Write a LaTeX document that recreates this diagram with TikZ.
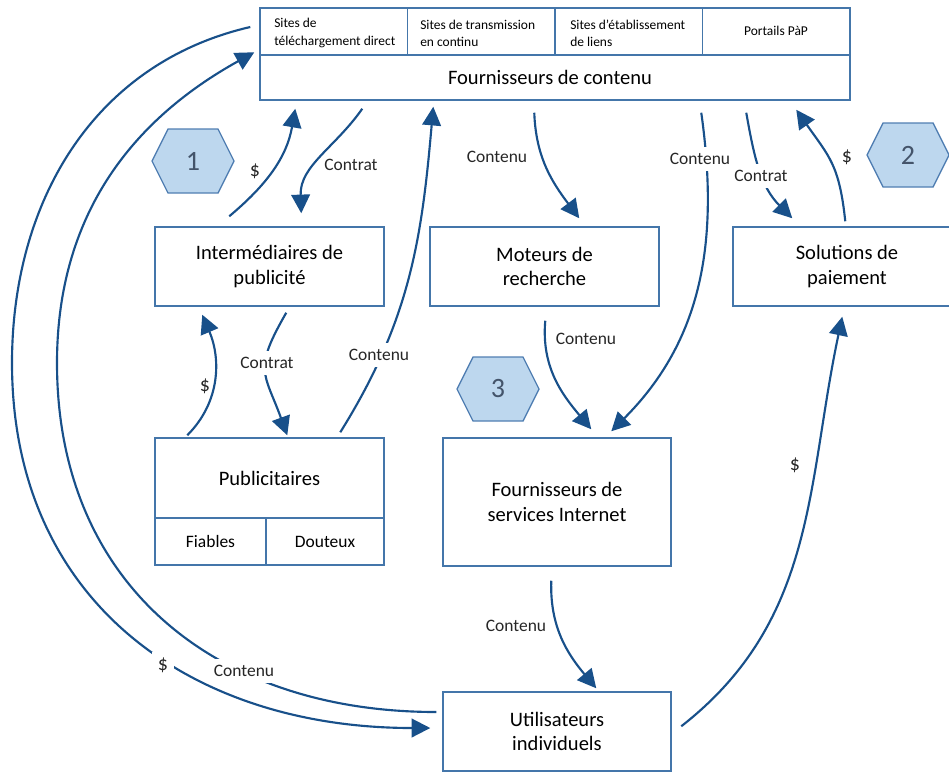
\documentclass[tikz,border=0pt]{standalone}
\usepackage{fontspec}
\setmainfont{Carlito}
\usetikzlibrary{arrows.meta,calc}
\definecolor{arrowblue}{RGB}{24,80,138}
\definecolor{boxblue}{RGB}{68,118,170}
\definecolor{hexfill}{RGB}{189,215,238}
\definecolor{hexline}{RGB}{80,126,178}
\definecolor{hexnum}{RGB}{68,84,106}
\definecolor{labeltext}{RGB}{38,38,38}
\begin{document}
\begin{tikzpicture}[x=0.75pt,y=0.75pt,
  box/.style={draw=boxblue, line width=1.1pt, fill=white, inner sep=0pt, align=center,
    font=\fontsize{15.4}{18.5}\selectfont},
  boxtext/.style={inner sep=0pt, align=center, font=\fontsize{15.4}{18.5}\selectfont},
  cellbox/.style={draw=boxblue, line width=1.1pt, fill=white, inner sep=0pt,
    minimum width=110.625pt, minimum height=35.25pt},
  celltext/.style={font=\fontsize{10.1}{12.9}\selectfont, align=left, inner sep=0pt},
  conn/.style={draw=arrowblue, line width=1.6pt, -{Triangle[length=14pt,width=14pt]}},
  lbl/.style={font=\fontsize{13.1}{15}\selectfont, text=labeltext, inner sep=1pt},
  gaplbl/.style={lbl, fill=white, inner sep=4.5pt},
  dollar/.style={font=\fontsize{15}{17}\selectfont},
  hexnumber/.style={font=\fontsize{21}{24}\selectfont, text=hexnum},
  hexa/.pic={\draw[draw=hexline, fill=hexfill, line width=1pt]
     (-41,0) -- (-25,32) -- (25,32) -- (41,0) -- (25,-32) -- (-25,-32) -- cycle;}
]
\useasboundingbox (0,0) rectangle (949,-772);
\clip (0,0) rectangle (949,-772);

% ---- top box: content providers ----
\node[cellbox] (c1) at (333.75,-31.5) {};
\node[cellbox] (c2) at (481.25,-31.5) {};
\node[cellbox] (c3) at (628.75,-31.5) {};
\node[cellbox] (c4) at (776.25,-31.5) {};
\node[box, minimum width=442.5pt, minimum height=33.75pt] (fc) at (555,-77.5) {};
\node[boxtext] (fct) at (550,-77) {Fournisseurs de contenu};
\node[celltext, anchor=west] (t1) at (274,-33) {Sites de\\téléchargement direct};
\node[celltext, anchor=west] (t2) at (420,-33) {Sites de transmission\\en continu};
\node[celltext, anchor=west] (t3) at (570,-33) {Sites d’établissement\\de liens};
\node[celltext] (t4) at (776,-31) {Portails PàP};

% ---- middle row ----
\node[box, minimum width=171.75pt, minimum height=59.25pt] (inter) at (269.5,-266.5) {Intermédiaires de\\publicité};
\node[box, minimum width=171.75pt, minimum height=59.25pt] (mot) at (544.5,-266.5) {Moteurs de\\recherche};
\node[box, minimum width=225pt, minimum height=59.25pt] (sol) at (883,-266.5) {};
\node[boxtext] (solt) at (847,-266.5) {Solutions de\\paiement};

% ---- advertisers ----
\node[box, minimum width=171.75pt, minimum height=60pt] (pub) at (269.5,-478) {Publicitaires};
\node[box, minimum width=83.25pt, minimum height=35.25pt, font=\fontsize{13.1}{15}\selectfont] (fia) at (210.5,-541.5) {Fiables};
\node[box, minimum width=88.5pt, minimum height=35.25pt, font=\fontsize{13.1}{15}\selectfont] (dou) at (325,-541.5) {Douteux};

% ---- ISP and users ----
\node[box, minimum width=171pt, minimum height=96pt] (fsi) at (557,-502) {Fournisseurs de\\services Internet};
\node[box, minimum width=171pt, minimum height=59.25pt] (util) at (557,-731.5) {Utilisateurs\\individuels};

% ---- hexagons ----
\pic at (193,-161) {hexa};
\node[hexnumber] (h1) at (193,-161) {1};
\pic at (908,-155) {hexa};
\node[hexnumber] (h2) at (908,-155) {2};
\pic at (498,-389) {hexa};
\node[hexnumber] (h3) at (498,-389) {3};

% ---- connectors ----
\draw[conn] ($(inter.north west)+(75,10)$) to[out=40,in=-100] ($(fc.south west)+(36,-8)$);
\draw[conn] ($(fc.south west)+(103,-8)$) to[out=-125,in=92] ($(inter.north west)+(147,13)$);
\draw[conn] ($(pub.north west)+(33,2)$) to[out=45,in=-67] ($(inter.south west)+(48,-8)$);
\draw[conn] ($(inter.south west)+(132,-6)$) to[out=-120,in=110,looseness=1.4] ($(pub.north west)+(133,2)$);
\draw[conn] ($(pub.north west)+(186,5)$) to[out=58,in=-95] ($(fc.south west)+(174,-6)$);
\draw[conn] ($(fc.south west)+(275,-12)$) to[out=-88,in=127] ($(mot.north west)+(150,8)$);
\draw[conn] ($(fc.south west)+(442,-12)$) to[out=-82,in=45] ($(fsi.north west)+(169,6)$);
\draw[conn] ($(mot.south west)+(116,-14)$) to[out=-95,in=130] ($(fsi.north west)+(149,8)$);
\draw[conn] ($(fc.south west)+(487,-12)$) to[out=-80,in=135] ($(sol.north west)+(60,8)$);
\draw[conn] ($(sol.north west)+(113,5)$) to[out=96,in=-55,looseness=1.2] ($(fc.south west)+(537,-9)$);
\draw[conn] ($(util.north west)+(239,-35)$) to[out=38,in=-102] ($(sol.south west)+(110,-10)$);
\draw[conn] ($(fsi.south west)+(109,-14)$) to[out=-92,in=130] ($(util.north west)+(154,3)$);
% large arcs on the left
\draw[conn] ($(c1.west)+(-9,4.5)$) to[out=193,in=90] (12,-363) to[out=-90,in=180,looseness=1.1] ($(util.west)+(-12,3.5)$);
\draw[conn] ($(util.west)+(-6,19.5)$) to[out=180,in=-90,looseness=1.1] (57,-363) to[out=90,in=209] ($(fc.north west)+(-5,2)$);

% ---- labels ----
\node[lbl, dollar] (l1) at (255,-171) {\$};
\node[lbl] (l2) at (351,-165) {Contrat};
\node[lbl, dollar] (l3) at (205,-386) {\$};
\node[gaplbl] (l4) at (267,-363) {Contrat};
\node[gaplbl] (l5) at (379,-355) {Contenu};
\node[lbl] (l6) at (497,-157) {Contenu};
\node[gaplbl] (l7) at (700,-159) {Contenu};
\node[lbl] (l8) at (586,-339) {Contenu};
\node[gaplbl] (l9) at (761,-176) {Contrat};
\node[lbl, dollar] (l10) at (847,-157) {\$};
\node[lbl, dollar] (l11) at (795,-465) {\$};
\node[lbl] (l12) at (516,-626) {Contenu};
\node[gaplbl, dollar] (l13) at (163,-665) {\$};
\node[gaplbl] (l14) at (244,-671) {Contenu};
\end{tikzpicture}
\end{document}
